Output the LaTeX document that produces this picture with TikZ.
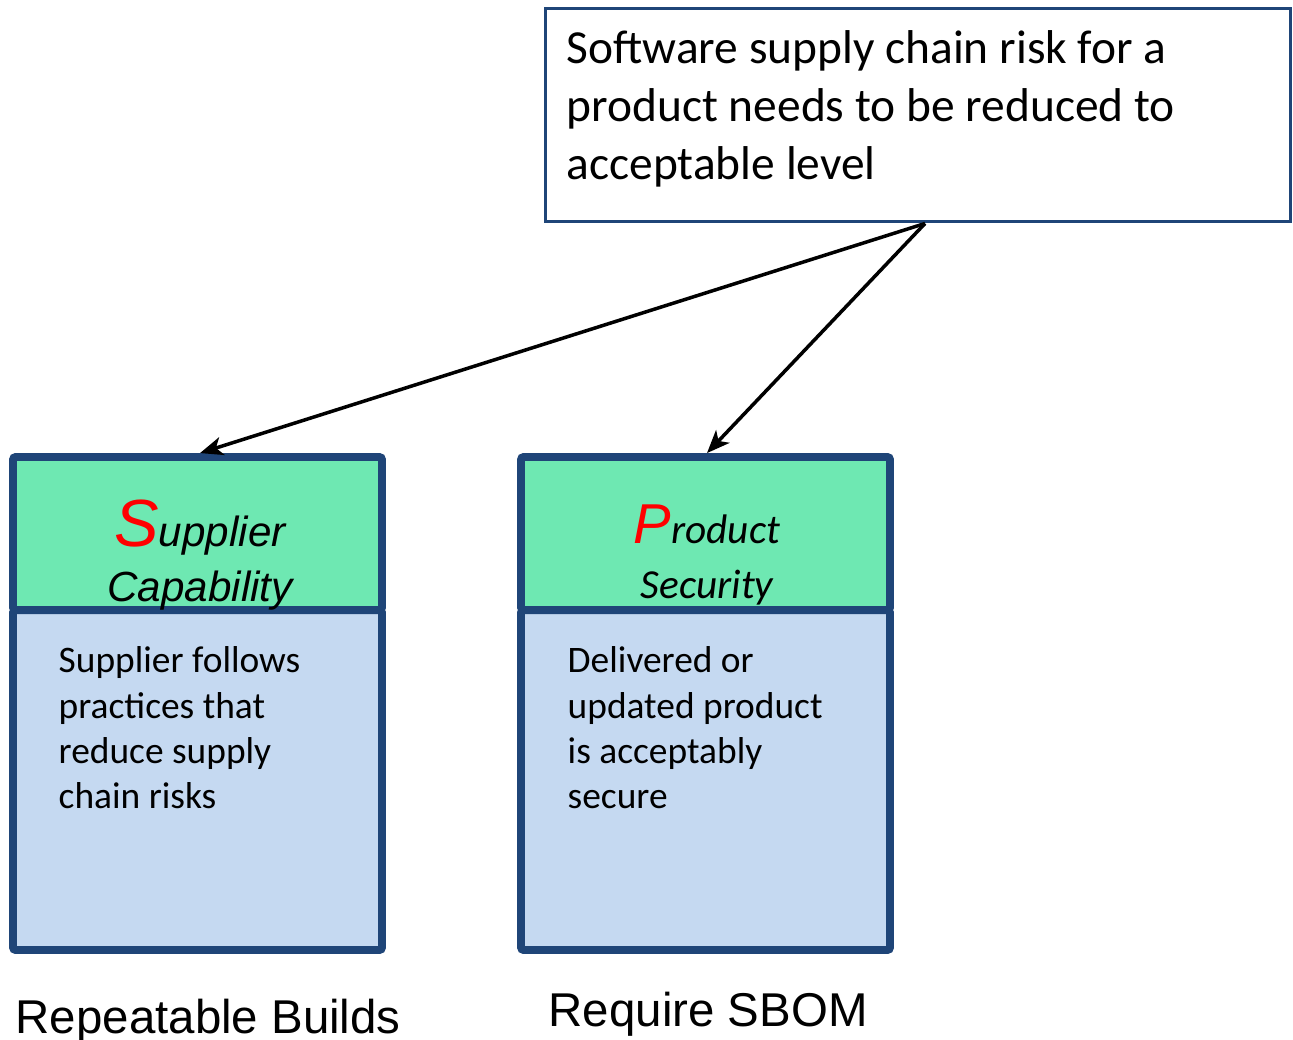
\documentclass[tikz,border=0pt]{standalone}
\usepackage{fontspec}
\setmainfont{Carlito}
\newfontfamily\arialfont{Liberation Sans}
\usetikzlibrary{calc, positioning, arrows.meta}
\definecolor{boxblue}{RGB}{31,69,120}
\definecolor{headgreen}{RGB}{110,232,178}
\definecolor{bodyblue}{RGB}{197,217,241}

\begin{document}
\begin{tikzpicture}[x=0.02cm, y=-0.02cm, thick, >={Stealth[length=13pt, width=10.5pt, inset=3.5pt]},
        head/.style={draw=boxblue, fill=headgreen, line width=4.5pt, rounded corners=1.5pt, minimum width=7.38cm, minimum height=3.06cm, inner sep=0pt},
        body/.style={draw=boxblue, fill=bodyblue, line width=4.5pt, rounded corners=1.5pt, minimum width=7.38cm, minimum height=6.8cm, inner sep=0pt},
        bodytext/.style={anchor=north west, inner sep=0pt, align=left, font=\fontsize{21.3}{25.8}\selectfont},
        caption/.style={anchor=base west, inner sep=0pt, font=\arialfont\fontsize{27}{32}\selectfont}]
        \useasboundingbox (0,0) rectangle (1293,1039);

        \node (goal) [draw=boxblue, line width=1.7pt, minimum width=14.92cm, minimum height=4.28cm] at (918,115) {};
        \node (goaltext) [anchor=north west, inner sep=0pt, align=left, font=\fontsize{27}{32.9}\selectfont] at (566,30) {Software supply chain risk for a\\product needs to be reduced to\\acceptable level};

        \node (head1) [head] at (197.5,533.5) {};
        \node (body1) [body] at (197.5,780) {};
        \node (head2) [head] at (705.5,533.5) {};
        \node (body2) [body] at (705.5,780) {};

        \node (title1) [align=center, inner sep=0pt, font=\arialfont\itshape\fontsize{24}{31}\selectfont] at (200,555) {{\color{red}\fontsize{38}{40}\selectfont S}upplier\\Capability};
        \node (title2) [align=center, inner sep=0pt, font=\itshape\fontsize{23.5}{31}\selectfont] at (707,555) {{\arialfont\color{red}\fontsize{32}{36}\selectfont P}roduct\\Security};

        \node (text1) [bodytext] at (58,646) {Supplier follows\\practices that\\reduce supply\\chain risks};
        \node (text2) [bodytext] at (567,646) {Delivered or\\updated product\\is acceptably\\secure};

        \node (cap1) [caption] at (15,1033) {Repeatable Builds};
        \node (cap2) [caption] at (548,1026) {Require SBOM};

        \draw[->, line width=2pt] ([xshift=0.14cm]goal.south) -- ([xshift=0.05cm]head1.north);
        \draw[->, line width=2pt] ([xshift=0.14cm]goal.south) -- ([xshift=0.03cm]head2.north);
    \end{tikzpicture}
\end{document}
